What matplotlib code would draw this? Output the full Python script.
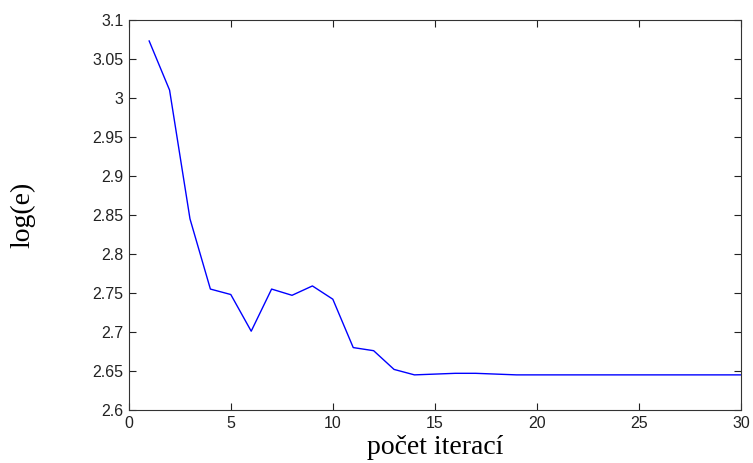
import matplotlib.pyplot as plt

iterations = list(range(1, 31))
log_e = [3.073, 3.010, 2.845, 2.755, 2.748, 2.701, 2.755, 2.747, 2.759, 2.742,
         2.680, 2.676, 2.652, 2.645, 2.646, 2.647, 2.647, 2.646, 2.645, 2.645,
         2.645, 2.645, 2.645, 2.645, 2.645, 2.645, 2.645, 2.645, 2.645, 2.645]

x_ticks = [0, 5, 10, 15, 20, 25, 30]
y_ticks = [2.6, 2.65, 2.7, 2.75, 2.8, 2.85, 2.9, 2.95, 3.0, 3.05, 3.1]
y_tick_labels = ["2.6", "2.65", "2.7", "2.75", "2.8", "2.85", "2.9", "2.95", "3", "3.05", "3.1"]

fig = plt.figure(figsize=(7.53, 4.63), dpi=100)
ax = fig.add_axes([0.171, 0.1145, 0.813, 0.8425])

ax.plot(iterations, log_e, color="#0000ff", linewidth=1.0)

ax.set_xlim(0, 30)
ax.set_ylim(2.6, 3.1)
ax.set_xticks(x_ticks)
ax.set_yticks(y_ticks)
ax.set_yticklabels(y_tick_labels)
ax.tick_params(direction="in", top=True, right=True, length=5, width=0.8,
               labelsize=11.5, colors="#222222", pad=4)
for lbl in ax.get_xticklabels() + ax.get_yticklabels():
    lbl.set_family("Liberation Sans")
for s in ax.spines.values():
    s.set_linewidth(0.8)
    s.set_color("#333333")

ax.set_xlabel("počet iterací", family="Liberation Serif", fontsize=20, labelpad=3)
ax.set_ylabel("log(e)", family="Liberation Serif", fontsize=20, labelpad=41)

fig.savefig("out.png", dpi=100)
